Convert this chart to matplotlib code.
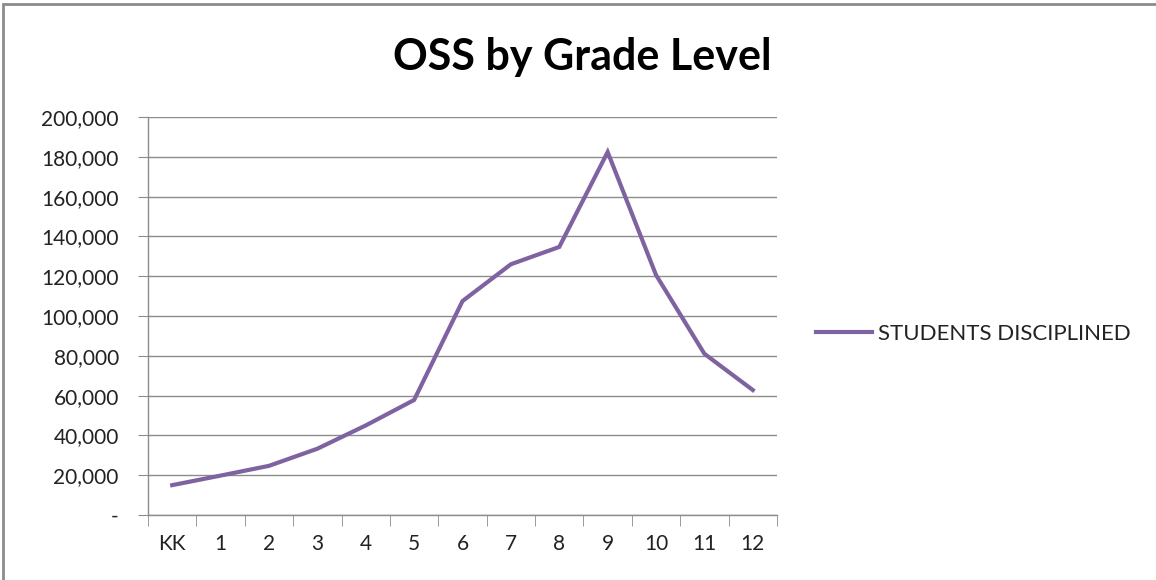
import matplotlib.pyplot as plt
import matplotlib.ticker as ticker
from matplotlib.patches import Rectangle
import numpy as np

# data
grades = ['KK', '1', '2', '3', '4', '5', '6', '7', '8', '9', '10', '11', '12']
students = [15000, 19800, 24700, 33300, 45000, 57800, 107500, 126000, 134700, 182400, 120600, 81000, 62800]

purple = '#7F63A1'
grid_c = '#8C8C8C'

plt.rcParams['font.family'] = ['Lato', 'DejaVu Sans']

fig = plt.figure(figsize=(11.56, 5.8), dpi=100, facecolor='white')
ax = fig.add_axes([148/1156, 1-515/580, (777-148)/1156, (515-117)/580])

x = np.arange(len(grades))
ax.plot(x, students, color=purple, linewidth=3, solid_joinstyle='miter',
        label='STUDENTS DISCIPLINED')

ax.set_xlim(-0.5, len(grades)-0.5)
ax.set_ylim(0, 200000)
ax.set_yticks(np.arange(0, 200001, 20000))
ax.yaxis.set_major_formatter(ticker.FuncFormatter(lambda v, p: '-' if v == 0 else f'{int(v):,}'))
ax.set_xticks(x)
ax.set_xticklabels(grades)
ax.set_xticks(np.arange(-0.5, len(grades)), minor=True)

ax.grid(axis='y', color=grid_c, linewidth=1)
ax.set_axisbelow(True)
for s in ['top', 'right']:
    ax.spines[s].set_visible(False)
for s in ['left', 'bottom']:
    ax.spines[s].set_color(grid_c)
    ax.spines[s].set_linewidth(1)

ax.tick_params(axis='y', length=7, color=grid_c, labelsize=15, pad=14, labelcolor='#222222')
ax.tick_params(axis='x', which='major', length=0, labelsize=15, pad=14, labelcolor='#222222')
ax.tick_params(axis='x', which='minor', length=8, color=grid_c)

fig.text(582/1156, 1-57/580, 'OSS by Grade Level', ha='center', va='center',
         fontsize=31, fontweight='bold')

leg = ax.legend(loc='center left', bbox_to_anchor=((816-148)/629, (515-334)/398), frameon=False,
                fontsize=16, handlelength=2.5, handletextpad=0.3,
                borderaxespad=0, borderpad=0)
for t in leg.get_texts():
    t.set_color('#222222')

fig.add_artist(Rectangle((3/1156, -0.01), 1.2, 1-4/580+0.01, transform=fig.transFigure,
                         fill=False, edgecolor='#8C8C8C', linewidth=2))

fig.savefig('out.png', dpi=100)
